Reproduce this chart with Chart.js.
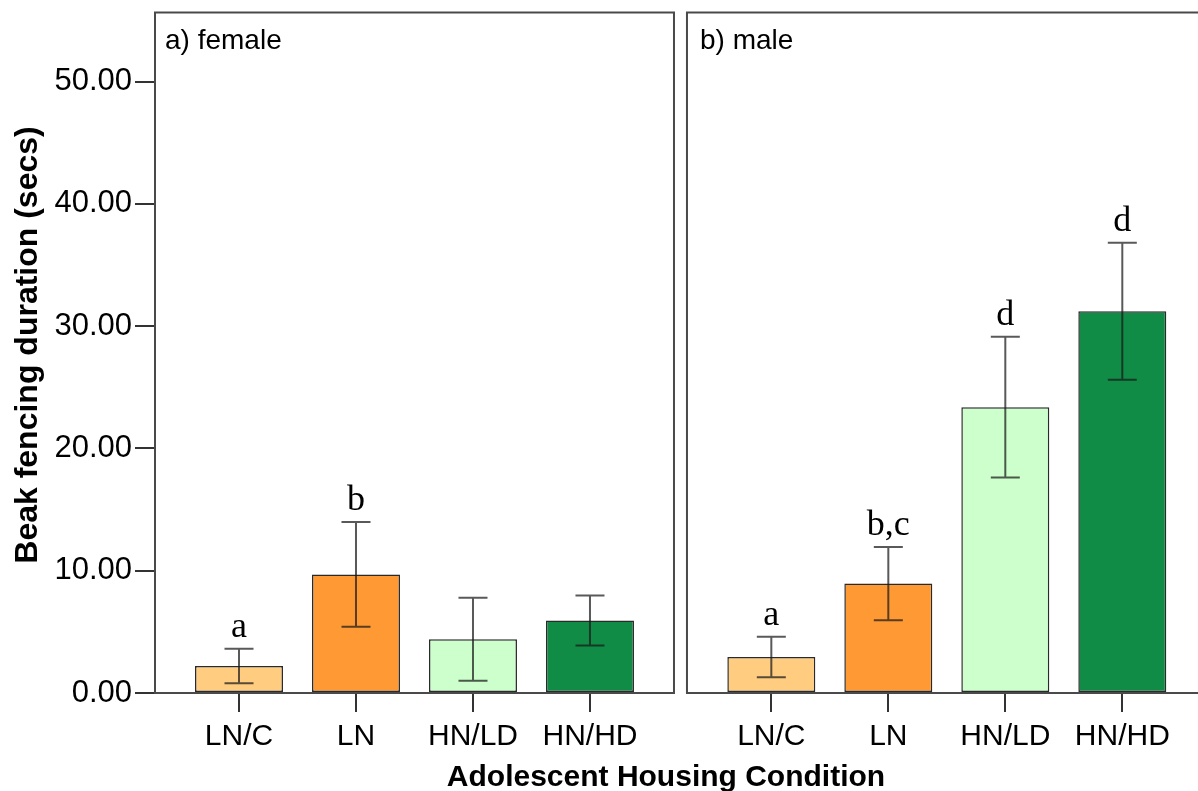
<!DOCTYPE html>
<html>
<head>
<meta charset="utf-8">
<script src="https://cdn.jsdelivr.net/npm/chart.js@4.4.1/dist/chart.umd.min.js"></script>
<style>
html,body{margin:0;padding:0;background:#fff;}
#wrap{width:1198px;height:791px;}
</style>
</head>
<body>
<div id="wrap"><canvas id="c" width="1198" height="791"></canvas></div>
<script>
// ---- data ----
const categories = ['LN/C', 'LN', 'HN/LD', 'HN/HD'];
const femaleMeans = [2.2, 9.7, 4.4, 5.93];
const femaleErrors = [1.41, 4.29, 3.4, 2.05];
const maleMeans = [2.94, 8.95, 23.38, 31.22];
const maleErrors = [1.66, 3.0, 5.75, 5.6];
const femaleLetters = ['a', 'b', '', ''];
const maleLetters = ['a', 'b,c', 'd', 'd'];
const panelLabels = ['a) female', 'b) male'];
const yTicks = [0, 10, 20, 30, 40, 50];
const barColors = ['#FFCC80', '#FF9933', '#CCFFCC', '#118C47'];
const axisTitleY = 'Beak fencing duration (secs)';
const axisTitleX = 'Adolescent Housing Condition';

// ---- layout constants (category units on x) ----
const maleOffset = 4.55;
const xMin = -0.718, xMax = 8.197;
const leftPanel = [-0.718, 3.718];
const rightPanelStart = 3.829;

const points = [];
const means = [], errs = [], letters = [], colors = [], tickVals = [], tickLabels = [];
categories.forEach((c, i) => {
  points.push({x: i, y: femaleMeans[i]});
  means.push(femaleMeans[i]); errs.push(femaleErrors[i]); letters.push(femaleLetters[i]);
  colors.push(barColors[i]); tickVals.push(i); tickLabels.push(c);
});
categories.forEach((c, i) => {
  points.push({x: i + maleOffset, y: maleMeans[i]});
  means.push(maleMeans[i]); errs.push(maleErrors[i]); letters.push(maleLetters[i]);
  colors.push(barColors[i]); tickVals.push(i + maleOffset); tickLabels.push(c);
});

const SANS = '"Liberation Sans", Arial, Helvetica, sans-serif';
const SERIF = '"Liberation Serif", "Times New Roman", serif';

const overlay = {
  id: 'overlay',
  afterDatasetsDraw(chart) {
    const ctx = chart.ctx, xs = chart.scales.x, ys = chart.scales.y;
    const meta = chart.getDatasetMeta(0);
    const ca = chart.chartArea;
    ctx.save();
    // error bars
    ctx.strokeStyle = 'rgba(25,25,25,0.72)';
    ctx.lineWidth = 2;
    means.forEach((m, i) => {
      const px = meta.data[i].x;
      const t = ys.getPixelForValue(m + errs[i]);
      const b = ys.getPixelForValue(m - errs[i]);
      ctx.beginPath();
      ctx.moveTo(px, t); ctx.lineTo(px, b);
      ctx.moveTo(px - 14.5, t); ctx.lineTo(px + 14.5, t);
      ctx.moveTo(px - 14.5, b); ctx.lineTo(px + 14.5, b);
      ctx.stroke();
    });
    // significance letters
    ctx.fillStyle = '#000';
    ctx.font = '36px ' + SERIF;
    ctx.textAlign = 'center';
    ctx.textBaseline = 'alphabetic';
    letters.forEach((l, i) => {
      if (!l) return;
      const px = meta.data[i].x;
      const t = ys.getPixelForValue(means[i] + errs[i]);
      ctx.fillText(l, px, t - 12);
    });
    // panel boxes
    ctx.strokeStyle = '#4a4a4a';
    ctx.lineWidth = 2;
    const top = Math.round(ca.top) + 0.5, bot = Math.round(ca.bottom);
    const l1 = xs.getPixelForValue(leftPanel[0]), r1 = xs.getPixelForValue(leftPanel[1]);
    const l2 = xs.getPixelForValue(rightPanelStart);
    ctx.beginPath();
    ctx.rect(l1, top, r1 - l1, bot - top);
    ctx.stroke();
    ctx.beginPath();
    ctx.moveTo(chart.width + 5, top); ctx.lineTo(l2, top); ctx.lineTo(l2, bot); ctx.lineTo(chart.width + 5, bot);
    ctx.stroke();
    // panel labels
    ctx.fillStyle = '#000';
    ctx.font = '28px ' + SANS;
    ctx.textAlign = 'left';
    ctx.fillText(panelLabels[0], l1 + 10, 49);
    ctx.fillText(panelLabels[1], l2 + 13, 49);
    // x axis title
    ctx.font = 'bold 30px ' + SANS;
    ctx.textAlign = 'center';
    ctx.fillText(axisTitleX, 666, 786);
    // y axis title
    ctx.save();
    ctx.translate(28, 345);
    ctx.rotate(-Math.PI / 2);
    ctx.textBaseline = 'middle';
    ctx.font = 'bold 32px ' + SANS;
    ctx.fillText(axisTitleY, 0, 0);
    ctx.restore();
    ctx.restore();
  }
};

new Chart(document.getElementById('c'), {
  type: 'bar',
  data: {
    datasets: [{
      data: points,
      backgroundColor: colors,
      borderColor: '#2a2a2a',
      borderWidth: 1.5,
      borderSkipped: false,
      categoryPercentage: 1,
      barPercentage: 0.752
    }]
  },
  options: {
    responsive: false,
    animation: false,
    devicePixelRatio: 1,
    layout: {padding: {top: 12, left: 0, right: 0, bottom: 0}},
    plugins: {legend: {display: false}, tooltip: {enabled: false}},
    scales: {
      x: {
        type: 'linear',
        offset: false,
        min: xMin, max: xMax,
        afterBuildTicks: s => { s.ticks = tickVals.map(v => ({value: v})); },
        afterFit: s => { s.height = 98; s.paddingLeft = 0; s.paddingRight = 0; },
        grid: {display: true, offset: false, drawOnChartArea: false, drawTicks: true, tickLength: 19, color: '#333', lineWidth: 2},
        border: {display: false},
        ticks: {
          autoSkip: false, maxRotation: 0, padding: 7, color: '#000',
          font: {family: SANS, size: 30},
          callback: (v, i) => tickLabels[i]
        }
      },
      y: {
        min: 0, max: 55.7,
        afterBuildTicks: s => { s.ticks = yTicks.map(v => ({value: v})); },
        afterFit: s => { s.width = 155; s.paddingTop = 0; s.paddingBottom = 0; },
        grid: {display: true, drawOnChartArea: false, drawTicks: true, tickLength: 20, color: '#333', lineWidth: 2},
        border: {display: false},
        ticks: {
          padding: 3, color: '#000',
          font: {family: SANS, size: 31},
          callback: v => Number(v).toFixed(2)
        },
        title: {display: false}
      }
    }
  },
  plugins: [overlay]
});
</script>
</body>
</html>
